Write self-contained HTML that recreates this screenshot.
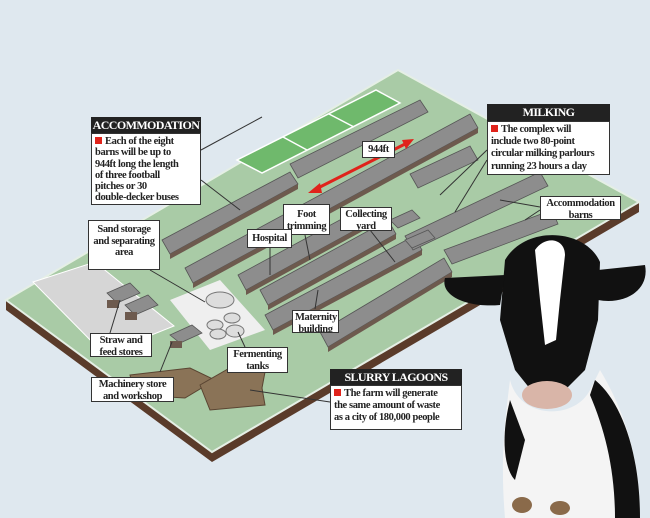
<!DOCTYPE html>
<html><head><meta charset="utf-8"><style>
body{margin:0;width:650px;height:518px;overflow:hidden;background:#dfe8ef;}
svg{position:absolute;left:0;top:0}
.lb{position:absolute;background:#fff;border:1px solid #333;font-family:"Liberation Sans Narrow","Liberation Serif",serif;font-weight:bold;font-size:10.5px;line-height:11.5px;color:#222;text-align:center;padding:1px 2px;box-sizing:border-box;letter-spacing:-0.4px;overflow:hidden;white-space:nowrap}
.tt{position:absolute;background:#222;color:#fff;font-family:"Liberation Sans Narrow","Liberation Serif",serif;font-weight:bold;font-size:12px;line-height:16px;text-align:center;box-sizing:border-box;letter-spacing:-0.6px;white-space:nowrap;overflow:hidden}
.bd{text-align:left;font-size:10.5px;line-height:12.2px;padding:2px 3px}
.sq{display:inline-block;width:7px;height:7px;background:#e0231b;margin-right:3px}
</style></head><body>
<svg width="650" height="518" viewBox="0 0 650 518">
<polygon points="6,300 212,452 639,202 639,212 212,462 6,310" fill="#5a3b2a"/>
<polygon points="398,70 639,202 212,452 6,300" fill="#a9cba6"/>
<polygon points="398,70 639,202 212,452 6,300" fill="none" stroke="#e5efe5" stroke-width="2"/>
<polygon points="33,282 95,262 174,326 104,354" fill="#d6d6d6" stroke="#fff"/>
<polygon points="170,300 220,280 265,330 210,350" fill="#efefef"/>
<polygon points="237,160 262,173 400,103 376,90" fill="#6fb96c" stroke="#fff" stroke-width="1.5"/>
<line x1="283" y1="137" x2="307" y2="150" stroke="#fff" stroke-width="1.5"/>
<line x1="329" y1="114" x2="354" y2="127" stroke="#fff" stroke-width="1.5"/>
<g fill="#8d8d8d" stroke="#555" stroke-width="0.8">
<polygon points="162,240 290,172 298,184 170,254"/>
<polygon points="290,164 420,100 428,112 298,178"/>
<polygon points="185,268 470,114 478,128 193,283"/>
<polygon points="238,275 362,208 370,222 246,290"/>
<polygon points="260,290 388,220 396,234 268,305"/>
<polygon points="265,315 414,236 422,250 273,330"/>
<polygon points="405,236 540,172 548,186 413,250"/>
<polygon points="320,332 444,258 452,272 328,347"/>
<polygon points="444,250 552,210 558,224 452,264"/>
<polygon points="410,174 470,146 478,160 418,188"/>
</g>
<g fill="#6d5a4e">
<polygon points="170,254 298,184 298,189 170,259"/>
<polygon points="193,283 478,128 478,133 193,288"/>
<polygon points="246,290 370,222 370,227 246,295"/>
<polygon points="268,305 396,234 396,239 268,310"/>
<polygon points="273,330 422,250 422,255 273,335"/>
<polygon points="328,347 452,272 452,277 328,352"/>
</g>
<g fill="#8d8d8d" stroke="#555" stroke-width="0.8">
<polygon points="107,293 130,283 140,293 117,303"/><polygon points="125,305 148,295 158,305 135,315"/>
<polygon points="170,335 192,325 202,333 180,343"/>
<polygon points="390,220 412,210 420,218 398,228"/><polygon points="405,240 428,230 435,238 412,248"/>
</g>
<g fill="#6d5a4e"><rect x="107" y="300" width="12" height="8"/><rect x="125" y="312" width="12" height="8"/><rect x="170" y="341" width="12" height="7"/></g>
<g fill="#ddd" stroke="#777"><ellipse cx="220" cy="300" rx="14" ry="8"/><ellipse cx="215" cy="325" rx="8" ry="5"/><ellipse cx="232" cy="318" rx="8" ry="5"/><ellipse cx="235" cy="331" rx="9" ry="6"/><ellipse cx="218" cy="334" rx="8" ry="5"/></g>
<path d="M130,375 L190,368 L215,380 L185,398 L135,395 Z" fill="#8a7357" stroke="#5a4532"/>
<path d="M200,385 L240,362 L265,372 L262,388 L265,405 L210,410 Z" fill="#8a7357" stroke="#5a4532"/>
<line x1="316" y1="189" x2="407" y2="143" stroke="#e0231b" stroke-width="3"/>
<polygon points="308,193 320,183 322,193" fill="#e0231b"/><polygon points="414,139 402,140 406,149" fill="#e0231b"/>
<g stroke="#333" stroke-width="1" fill="none">
<line x1="201" y1="180" x2="240" y2="210"/><line x1="201" y1="150" x2="262" y2="117"/>
<line x1="487" y1="150" x2="440" y2="195"/><line x1="487" y1="160" x2="455" y2="212"/>
<line x1="540" y1="207" x2="500" y2="200"/><line x1="540" y1="210" x2="525" y2="220"/>
<line x1="370" y1="230" x2="395" y2="262"/><line x1="305" y1="235" x2="310" y2="260"/>
<line x1="270" y1="247" x2="270" y2="275"/><line x1="150" y1="270" x2="205" y2="302"/>
<line x1="110" y1="333" x2="120" y2="300"/><line x1="160" y1="372" x2="172" y2="342"/>
<line x1="245" y1="347" x2="238" y2="332"/><line x1="315" y1="309" x2="318" y2="290"/>
<line x1="330" y1="402" x2="250" y2="390"/>
</g>
<path d="M505,260 C525,225 585,228 600,262 L598,320 L585,370 L560,395 L535,395 L515,370 L500,320 Z" fill="#111"/>
<path d="M535,250 C545,235 565,238 565,255 L560,300 L556,340 L545,345 L540,300 Z" fill="#fff"/>
<path d="M505,275 L445,278 C440,295 465,308 500,305 Z" fill="#111"/>
<path d="M598,270 L645,265 C650,290 625,305 598,300 Z" fill="#111"/>
<ellipse cx="547" cy="395" rx="25" ry="14" fill="#d9b5a8"/>
<path d="M510,380 C505,420 500,460 505,518 L640,518 C640,470 630,420 600,370 L590,390 C575,420 520,420 510,380 Z" fill="#f4f4f4"/>
<path d="M595,380 C620,400 640,450 640,518 L615,518 C615,470 605,430 590,395 Z" fill="#111"/>
<path d="M510,400 C500,440 505,470 515,480 L525,440 Z" fill="#111"/>
<ellipse cx="522" cy="505" rx="10" ry="8" fill="#8a6a4a"/><ellipse cx="560" cy="508" rx="10" ry="7" fill="#8a6a4a"/>
</svg>
<div class="tt" style="left:91px;top:117px;width:110px;height:17px">ACCOMMODATION</div>
<div class="lb bd" style="left:91px;top:133px;width:110px;height:72px;line-height:11.3px"><span class="sq"></span>Each of the eight<br>barns will be up to<br>944ft long the length<br>of three football<br>pitches or 30<br>double-decker buses</div>
<div class="tt" style="left:487px;top:104px;width:123px;height:17px">MILKING</div>
<div class="lb bd" style="left:487px;top:121px;width:123px;height:54px"><span class="sq"></span>The complex will<br>include two 80-point<br>circular milking parlours<br>running 23 hours a day</div>
<div class="lb" style="left:540px;top:196px;width:81px;height:24px">Accommodation<br>barns</div>
<div class="lb" style="left:340px;top:207px;width:52px;height:24px">Collecting<br>yard</div>
<div class="lb" style="left:283px;top:204px;width:47px;height:31px;padding-top:4px">Foot<br>trimming</div>
<div class="lb" style="left:247px;top:229px;width:45px;height:19px;padding-top:3px">Hospital</div>
<div class="lb" style="left:88px;top:220px;width:72px;height:50px;padding-top:3px">Sand storage<br>and separating<br>area</div>
<div class="lb" style="left:90px;top:333px;width:62px;height:24px">Straw and<br>feed stores</div>
<div class="lb" style="left:91px;top:377px;width:83px;height:25px">Machinery store<br>and workshop</div>
<div class="lb" style="left:227px;top:347px;width:61px;height:26px">Fermenting<br>tanks</div>
<div class="lb" style="left:292px;top:310px;width:47px;height:23px">Maternity<br>building</div>
<div class="lb" style="left:362px;top:141px;width:33px;height:17px;padding-top:2px">944ft</div>
<div class="tt" style="left:330px;top:369px;width:132px;height:17px">SLURRY LAGOONS</div>
<div class="lb bd" style="left:330px;top:385px;width:132px;height:45px"><span class="sq"></span>The farm will generate<br>the same amount of waste<br>as a city of 180,000 people</div>
</body></html>
